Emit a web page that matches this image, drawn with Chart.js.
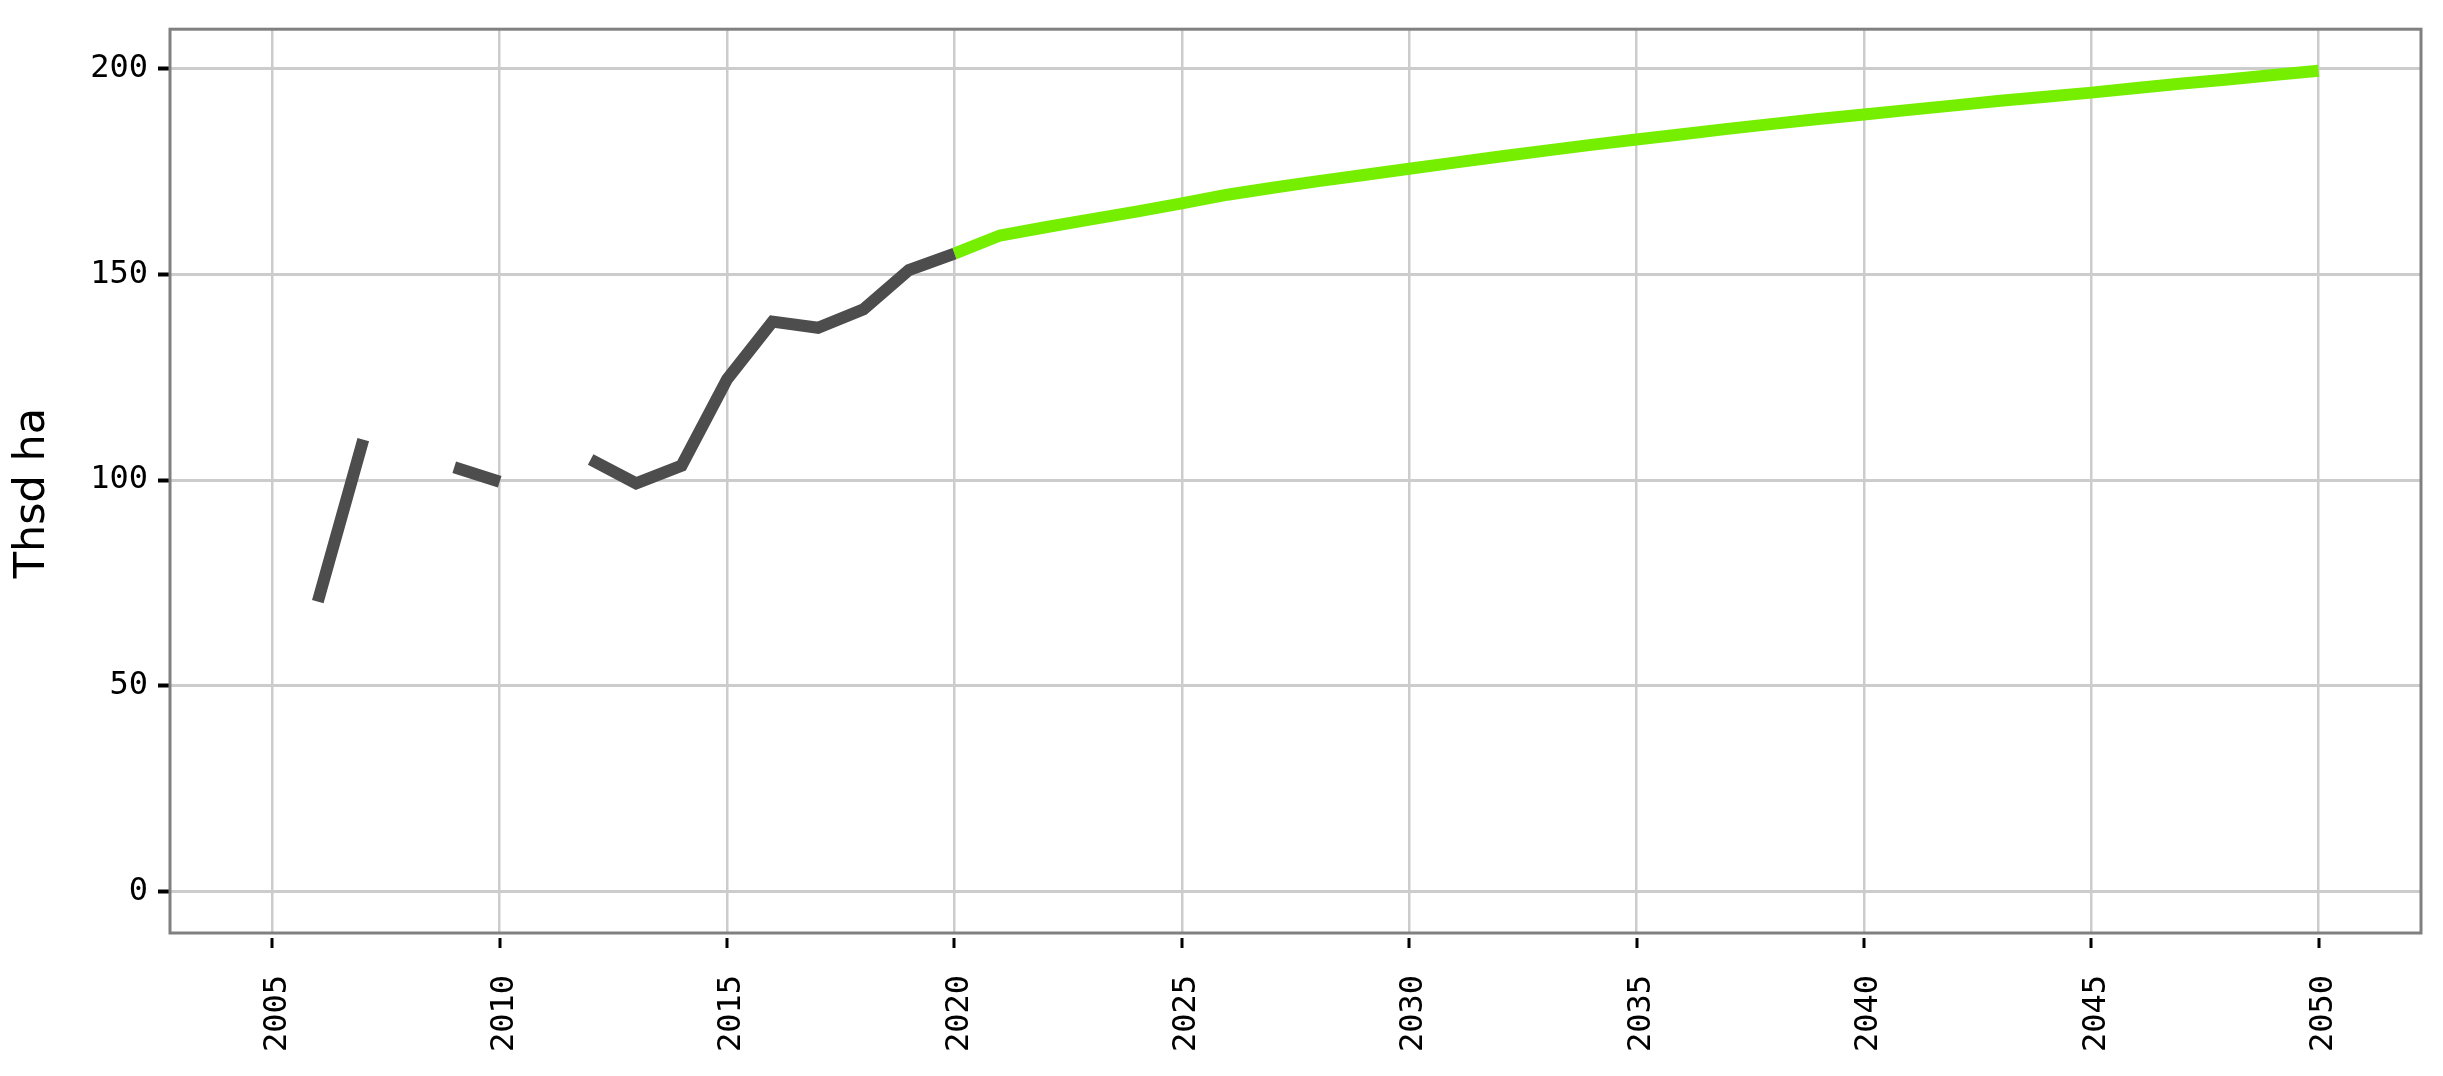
<!DOCTYPE html>
<html>
<head>
<meta charset="utf-8">
<title>Thsd ha</title>
<script src="https://cdn.jsdelivr.net/npm/chart.js@4.4.1/dist/chart.umd.min.js"></script>
<style>
    html, body { margin: 0; padding: 0; background: #ffffff; }
    #chart { display: block; }
</style>
</head>
<body>
<canvas id="chart" width="2443" height="1076"></canvas>
<script>
// Historical values (gaps are missing years)
const histYears = [2005, 2006, 2007, 2008, 2009, 2010, 2011, 2012, 2013, 2014, 2015, 2016, 2017, 2018, 2019, 2020];
const histValues = [null, 70.5, 109.8, null, 103.1, 99.6, null, 105, 99.2, 103.5, 124.5, 138.5, 137, 141.5, 151, 155];

// Projection
const projYears = [2020, 2021, 2022, 2023, 2024, 2025, 2026, 2027, 2028, 2029, 2030,
    2031, 2032, 2033, 2034, 2035, 2036, 2037, 2038, 2039, 2040,
    2041, 2042, 2043, 2044, 2045, 2046, 2047, 2048, 2049, 2050];
const projValues = [155, 159.4, 161.4, 163.3, 165.2, 167.2, 169.3, 171, 172.6, 174.1, 175.6,
    177.1, 178.6, 180, 181.4, 182.7, 184, 185.3, 186.5, 187.7, 188.8,
    189.9, 191, 192.1, 193.1, 194.1, 195.2, 196.3, 197.3, 198.4, 199.4];

// Axis ticks
const xTickValues = [2005, 2010, 2015, 2020, 2025, 2030, 2035, 2040, 2045, 2050];
const yTickValues = [0, 50, 100, 150, 200];
const yTitle = 'Thsd ha';

function toPoints(xs, ys) {
    return xs.map((x, i) => ({ x: x, y: ys[i] }));
}

// Box around the plot, detached x tick marks and the y title
const framePlugin = {
    id: 'frame',
    afterDraw(chart) {
        const ctx = chart.ctx;
        const area = chart.chartArea;
        const xScale = chart.scales.x;
        ctx.save();
        ctx.strokeStyle = '#000000';
        ctx.lineWidth = 3;
        xTickValues.forEach(v => {
            const px = Math.round(xScale.getPixelForValue(v));
            ctx.beginPath();
            ctx.moveTo(px, area.bottom + 5);
            ctx.lineTo(px, area.bottom + 15);
            ctx.stroke();
        });
        ctx.strokeStyle = '#808080';
        ctx.lineWidth = 3;
        ctx.strokeRect(area.left, area.top, area.right - area.left, area.bottom - area.top);

        // y axis title, a little below the middle of the plot
        ctx.translate(33, (area.top + area.bottom) / 2 + 12);
        ctx.rotate(-Math.PI / 2);
        ctx.fillStyle = '#000000';
        ctx.font = '43px "DejaVu Sans", sans-serif';
        ctx.textAlign = 'center';
        ctx.textBaseline = 'middle';
        ctx.fillText(yTitle, 0, 0);
        ctx.restore();
    }
};

const tickFont = { family: '"DejaVu Sans Mono", monospace', size: 32 };

new Chart(document.getElementById('chart').getContext('2d'), {
    type: 'line',
    data: {
        datasets: [
            {
                label: 'historical',
                data: toPoints(histYears, histValues),
                borderColor: '#4d4d4d',
                borderWidth: 12,
                pointRadius: 0,
                spanGaps: false,
                tension: 0
            },
            {
                label: 'projection',
                data: toPoints(projYears, projValues),
                borderColor: '#76ee00',
                borderWidth: 12,
                pointRadius: 0,
                tension: 0
            }
        ]
    },
    options: {
        responsive: false,
        animation: false,
        devicePixelRatio: 1,
        layout: { padding: { top: 24, right: 22, bottom: 0, left: 0 } },
        plugins: {
            legend: { display: false },
            tooltip: { enabled: false }
        },
        scales: {
            x: {
                type: 'linear',
                min: 2002.75,
                max: 2052.25,
                afterBuildTicks: scale => { scale.ticks = xTickValues.map(v => ({ value: v })); },
                afterFit: scale => { scale.height = 143; },
                grid: { color: '#cccccc', lineWidth: 2.5, drawTicks: false },
                border: { display: false },
                ticks: {
                    autoSkip: false,
                    minRotation: 90,
                    maxRotation: 90,
                    padding: 42,
                    labelOffset: 5,
                    color: '#000000',
                    font: tickFont,
                    callback: value => String(value)
                }
            },
            y: {
                type: 'linear',
                min: -10,
                max: 209.5,
                afterBuildTicks: scale => { scale.ticks = yTickValues.map(v => ({ value: v })); },
                afterFit: scale => { scale.width = 170; },
                grid: {
                    color: '#cccccc',
                    lineWidth: 3,
                    tickColor: '#000000',
                    tickWidth: 4,
                    tickLength: 12
                },
                border: { display: false },
                ticks: {
                    padding: 10,
                    color: '#000000',
                    font: tickFont,
                    callback: value => String(value)
                }
            }
        }
    },
    plugins: [framePlugin]
});
</script>
</body>
</html>
